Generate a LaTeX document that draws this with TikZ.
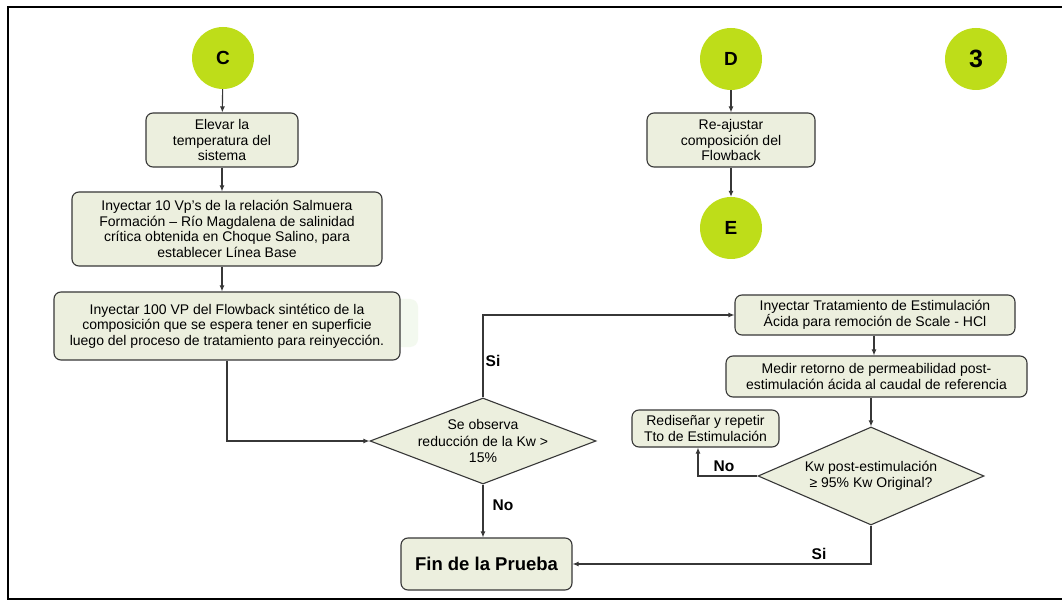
\documentclass[tikz,border=0pt]{standalone}
\usepackage{fontspec}
\setmainfont{Liberation Sans}
\usetikzlibrary{shapes.geometric,arrows.meta}

\definecolor{lime}{RGB}{190,221,25}
\definecolor{boxfill}{RGB}{236,239,222}
\definecolor{edge}{RGB}{55,55,55}
\definecolor{glow}{RGB}{243,249,239}

\tikzset{
  stepbox/.style={draw=edge, line width=1.1pt, fill=boxfill, rounded corners=7pt,
    inner sep=0pt, align=center, font=\fontsize{14}{15.5}\selectfont},
  connector/.style={circle, fill=lime, inner sep=0pt, minimum size=62pt,
    font=\bfseries\fontsize{19}{21}\selectfont},
  decision/.style={diamond, draw=edge, line width=1.1pt, fill=boxfill, inner sep=0pt},
  dtext/.style={align=center, inner sep=0pt, font=\fontsize{14}{16.5}\selectfont},
  flow/.style={draw=edge, line width=1.1pt, -{Latex[length=6pt,width=5pt]}},
  tag/.style={inner sep=0pt, font=\bfseries\fontsize{15.5}{17}\selectfont},
}

\begin{document}
\begin{tikzpicture}[x=1pt, y=-1pt]
  \useasboundingbox (0,0) rectangle (1062,601);
  \fill[white] (0,0) rectangle (1062,601);

  % outer frame (open on the right)
  \draw[black, line width=2pt] (1063,7) -- (8,7) -- (8,599) -- (1063,599);

  % left column
  \node[connector] (C) at (223,58) {C};
  \node[stepbox, minimum width=152pt, minimum height=54pt] (elev) at (222,140)
    {Elevar la\\temperatura del\\sistema};
  \node[stepbox, minimum width=310pt, minimum height=74pt] (salm) at (227,229)
    {Inyectar 10 Vp’s de la relación Salmuera\\Formación – Río Magdalena de salinidad\\crítica obtenida en Choque Salino, para\\establecer Línea Base};
  \fill[glow, rounded corners=8pt] (385,299) rectangle (418,347);
  \node[stepbox, minimum width=346pt, minimum height=68pt] (flowb) at (227,326)
    {Inyectar 100 VP del Flowback sintético de la\\composición que se espera tener en superficie\\luego del proceso de tratamiento para reinyección.};

  % first decision
  \node[decision, minimum width=226pt, minimum height=86pt] (d1) at (483,441) {};
  \node[dtext] at (d1) {Se observa\\reducción de la Kw >\\15\%};

  \node[stepbox, minimum width=171pt, minimum height=52pt,
        font=\bfseries\fontsize{18.5}{20}\selectfont] (fin) at (486.5,564) {Fin de la Prueba};

  % middle column
  \node[connector] (D) at (731,59) {D};
  \node[stepbox, minimum width=168pt, minimum height=54pt] (reaj) at (731,140)
    {Re-ajustar\\composición del\\Flowback};
  \node[connector] (E) at (731,228) {E};

  % page number
  \node[connector, font=\bfseries\fontsize{25}{27}\selectfont] (pg) at (976,59) {3};

  % right column
  \node[stepbox, minimum width=280pt, minimum height=40pt] (acid) at (875,315)
    {Inyectar Tratamiento de Estimulación\\Ácida para remoción de Scale - HCl};
  \node[stepbox, minimum width=301pt, minimum height=41pt] (medir) at (876.5,376.5)
    {Medir retorno de permeabilidad post-\\estimulación ácida al caudal de referencia};
  \node[decision, minimum width=226pt, minimum height=98pt] (d2) at (871,476) {};
  \node[dtext] at (d2) {Kw post-estimulación\\≥ 95\% Kw Original?};
  \node[stepbox, minimum width=147pt, minimum height=37pt] (redis) at (705.5,428.5)
    {Rediseñar y repetir\\Tto de Estimulación};

  % connectors
  \draw[flow] (C) -- (elev);
  \draw[flow] (elev.south) -- (elev.south |- salm.north);
  \draw[flow] (salm.south -| elev.south) -- (flowb.north -| elev.south);
  \draw[flow] (flowb.south) |- (d1.west);
  \draw[flow] (d1.north) |- (acid.west);
  \draw[flow] (d1.south) -- (d1.south |- fin.north);
  \draw[flow] (D) -- (reaj);
  \draw[flow] (reaj) -- (E);
  \draw[flow] (acid.south -| 874,0) -- (medir.north -| 874,0);
  \draw[flow] (medir.south -| d2.north) -- (d2.north);
  \draw[flow] (d2.west) -| ([xshift=-7.5pt]redis.south);
  \draw[flow] (d2.south) |- (fin.east);

  % branch labels
  \node[tag] at (493,361) {Si};
  \node[tag] at (503,505) {No};
  \node[tag] at (724,466) {No};
  \node[tag] at (819,554) {Si};
\end{tikzpicture}
\end{document}
